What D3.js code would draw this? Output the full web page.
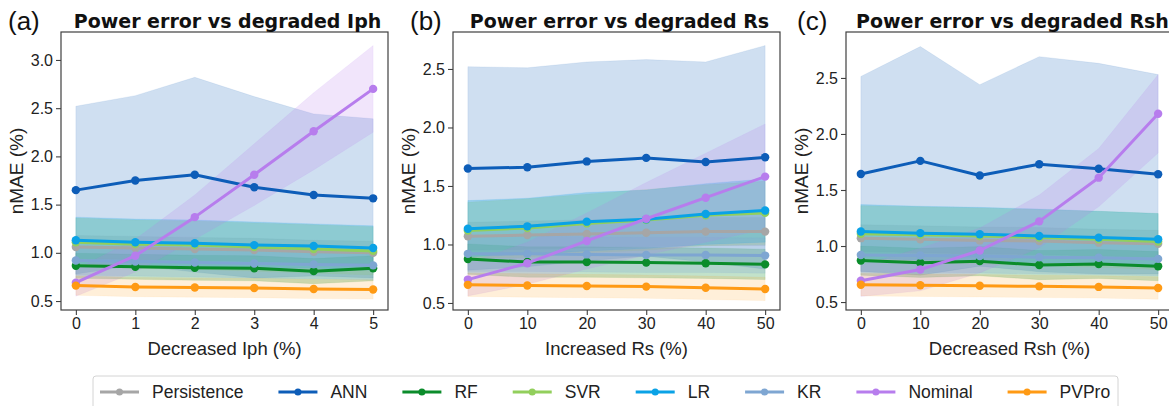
<!DOCTYPE html>
<html>
<head>
<meta charset="utf-8">
<script src="https://cdn.jsdelivr.net/npm/d3@7"></script>
<style>
  body { margin: 0; background: #fff; }
  svg { display: block; font-family: "Liberation Sans", Arial, sans-serif; }
  .title { font-family: "DejaVu Sans", sans-serif; font-weight: bold; }
</style>
</head>
<body>
<svg id="chart" width="1169" height="406"></svg>
<script>
// series (legend order)
const seriesNames = ['Persistence', 'ANN', 'RF', 'SVR', 'LR', 'KR', 'Nominal', 'PVPro'];
const seriesColors = ['#a6a6a6', '#0d5db8', '#0b8c2b', '#92cf5c', '#0aa2e6', '#7ea6d2', '#b77ded', '#ff9a14'];
const bandAlpha = [0.25, 0.2, 0.25, 0.25, 0.28, 0.25, 0.2, 0.16];

// x values
const xIph = [0, 1, 2, 3, 4, 5];
const xRs = [0, 10, 20, 30, 40, 50];
const xRsh = [0, 10, 20, 30, 40, 50];

// (a) degraded Iph : mean nMAE and std per series
const iphMean = [
  [1.06, 1.05, 1.04, 1.03, 1.01, 1.00],
  [1.65, 1.75, 1.81, 1.68, 1.60, 1.565],
  [0.866, 0.855, 0.845, 0.84, 0.81, 0.84],
  [1.11, 1.09, 1.08, 1.06, 1.04, 1.02],
  [1.13, 1.11, 1.10, 1.08, 1.07, 1.05],
  [0.92, 0.91, 0.90, 0.89, 0.88, 0.87],
  [0.69, 0.97, 1.37, 1.81, 2.26, 2.70],
  [0.66, 0.645, 0.64, 0.635, 0.625, 0.62]
];
const iphStd = [
  [0.12, 0.12, 0.12, 0.12, 0.12, 0.12],
  [0.87, 0.88, 1.01, 0.94, 0.84, 0.825],
  [0.13, 0.13, 0.13, 0.13, 0.13, 0.13],
  [0.25, 0.25, 0.25, 0.25, 0.25, 0.25],
  [0.24, 0.24, 0.24, 0.24, 0.23, 0.23],
  [0.15, 0.15, 0.15, 0.15, 0.15, 0.15],
  [0.14, 0.17, 0.23, 0.32, 0.40, 0.45],
  [0.10, 0.10, 0.10, 0.10, 0.10, 0.10]
];

// (b) degraded Rs
const rsMean = [
  [1.07, 1.08, 1.09, 1.10, 1.11, 1.11],
  [1.65, 1.66, 1.71, 1.74, 1.705, 1.745],
  [0.875, 0.85, 0.85, 0.845, 0.84, 0.83],
  [1.12, 1.14, 1.18, 1.21, 1.25, 1.27],
  [1.135, 1.155, 1.195, 1.215, 1.26, 1.29],
  [0.92, 0.92, 0.915, 0.91, 0.91, 0.905],
  [0.70, 0.84, 1.03, 1.22, 1.40, 1.58],
  [0.655, 0.65, 0.645, 0.64, 0.63, 0.62]
];
const rsStd = [
  [0.12, 0.12, 0.12, 0.12, 0.12, 0.12],
  [0.87, 0.85, 0.85, 0.84, 0.855, 0.955],
  [0.13, 0.13, 0.13, 0.13, 0.13, 0.13],
  [0.24, 0.25, 0.25, 0.26, 0.26, 0.27],
  [0.24, 0.24, 0.25, 0.25, 0.26, 0.27],
  [0.15, 0.15, 0.15, 0.15, 0.15, 0.15],
  [0.14, 0.18, 0.24, 0.31, 0.38, 0.45],
  [0.10, 0.10, 0.10, 0.10, 0.10, 0.10]
];

// (c) degraded Rsh
const rshMean = [
  [1.07, 1.06, 1.05, 1.045, 1.03, 1.02],
  [1.643, 1.76, 1.63, 1.73, 1.69, 1.64],
  [0.87, 0.85, 0.865, 0.83, 0.84, 0.82],
  [1.11, 1.10, 1.09, 1.075, 1.06, 1.04],
  [1.13, 1.115, 1.105, 1.09, 1.075, 1.06],
  [0.92, 0.915, 0.91, 0.90, 0.895, 0.885],
  [0.69, 0.79, 0.96, 1.22, 1.61, 2.18],
  [0.655, 0.65, 0.645, 0.64, 0.635, 0.625]
];
const rshStd = [
  [0.12, 0.12, 0.12, 0.12, 0.12, 0.12],
  [0.87, 1.02, 0.81, 0.96, 0.94, 0.89],
  [0.13, 0.13, 0.13, 0.13, 0.13, 0.13],
  [0.25, 0.25, 0.25, 0.25, 0.25, 0.25],
  [0.24, 0.24, 0.24, 0.24, 0.235, 0.23],
  [0.15, 0.15, 0.15, 0.15, 0.15, 0.15],
  [0.14, 0.19, 0.20, 0.235, 0.26, 0.35],
  [0.10, 0.10, 0.10, 0.10, 0.10, 0.10]
];

const yTicksA = [0.5, 1.0, 1.5, 2.0, 2.5, 3.0];
const yTicksBC = [0.5, 1.0, 1.5, 2.0, 2.5];

const panels = [
  { tag: '(a)', tagX: 8, title: 'Power error vs degraded Iph', xlabel: 'Decreased Iph (%)',
    left: 61, x: xIph, xDomain: [-0.25, 5.25], yDomain: [0.407, 3.29], yTicks: yTicksA,
    mean: iphMean, std: iphStd },
  { tag: '(b)', tagX: 410, title: 'Power error vs degraded Rs', xlabel: 'Increased Rs (%)',
    left: 453, x: xRs, xDomain: [-2.5, 52.5], yDomain: [0.44, 2.816], yTicks: yTicksBC,
    mean: rsMean, std: rsStd },
  { tag: '(c)', tagX: 797, title: 'Power error vs degraded Rsh', xlabel: 'Decreased Rsh (%)',
    left: 846, x: xRsh, xDomain: [-2.5, 52.5], yDomain: [0.429, 2.91], yTicks: yTicksBC,
    mean: rshMean, std: rshStd }
];

const svg = d3.select('#chart');
const plotW = 327;
const plotTop = 32;
const plotH = 278;
const axisColor = '#404040';

panels.forEach(p => {
  const x = d3.scaleLinear().domain(p.xDomain).range([0, plotW]);
  const y = d3.scaleLinear().domain(p.yDomain).range([plotH, 0]);
  const g = svg.append('g').attr('transform', `translate(${p.left},${plotTop})`);

  // clip to the frame
  const clipId = 'clip' + p.left;
  g.append('clipPath').attr('id', clipId)
    .append('rect').attr('width', plotW).attr('height', plotH);
  const plot = g.append('g').attr('clip-path', `url(#${clipId})`);

  // bands (mean +/- std)
  seriesNames.forEach((name, i) => {
    const pts = p.x.map((xv, j) => ({ x: xv, m: p.mean[i][j], s: p.std[i][j] }));
    const area = d3.area()
      .x(d => x(d.x))
      .y0(d => y(d.m - d.s))
      .y1(d => y(d.m + d.s));
    plot.append('path')
      .datum(pts)
      .attr('fill', seriesColors[i])
      .attr('fill-opacity', bandAlpha[i])
      .attr('stroke', seriesColors[i])
      .attr('stroke-opacity', bandAlpha[i] * 0.5)
      .attr('stroke-width', 0.8)
      .attr('d', area);
  });

  // lines + markers
  seriesNames.forEach((name, i) => {
    const pts = p.x.map((xv, j) => ({ x: xv, m: p.mean[i][j] }));
    const line = d3.line().x(d => x(d.x)).y(d => y(d.m));
    plot.append('path')
      .datum(pts)
      .attr('fill', 'none')
      .attr('stroke', seriesColors[i])
      .attr('stroke-width', 3)
      .attr('stroke-linejoin', 'round')
      .attr('d', line);
    plot.selectAll(null)
      .data(pts)
      .enter()
      .append('circle')
      .attr('cx', d => x(d.x))
      .attr('cy', d => y(d.m))
      .attr('r', 4.2)
      .attr('fill', seriesColors[i]);
  });

  // frame
  g.append('rect')
    .attr('width', plotW).attr('height', plotH)
    .attr('fill', 'none').attr('stroke', axisColor).attr('stroke-width', 1.2);

  // axes
  const xAxis = g.append('g')
    .attr('transform', `translate(0,${plotH})`)
    .call(d3.axisBottom(x).tickValues(p.x).tickFormat(d3.format('d'))
      .tickSize(5).tickSizeOuter(0).tickPadding(3));
  const yAxis = g.append('g')
    .call(d3.axisLeft(y).tickValues(p.yTicks).tickFormat(d3.format('.1f'))
      .tickSize(5).tickSizeOuter(0).tickPadding(3));
  [xAxis, yAxis].forEach(a => {
    a.select('.domain').remove();
    a.selectAll('line').attr('stroke', axisColor).attr('stroke-width', 1.1);
    a.selectAll('text').attr('fill', '#222').attr('font-size', 16)
      .attr('font-family', '"Liberation Sans", Arial, sans-serif');
  });

  // title, tag, labels
  svg.append('text').attr('class', 'title')
    .attr('x', p.left + plotW / 2 + 3).attr('y', 28)
    .attr('text-anchor', 'middle').attr('font-size', 19).attr('fill', '#111')
    .text(p.title);
  svg.append('text')
    .attr('x', p.tagX).attr('y', 30)
    .attr('font-size', 26).attr('fill', '#111')
    .text(p.tag);
  svg.append('text')
    .attr('x', p.left + plotW / 2).attr('y', 355)
    .attr('text-anchor', 'middle').attr('font-size', 18.5).attr('fill', '#222')
    .text(p.xlabel);
  svg.append('text')
    .attr('transform', `translate(${p.left - 38},${plotTop + plotH / 2}) rotate(-90)`)
    .attr('text-anchor', 'middle').attr('font-size', 19).attr('fill', '#222')
    .text('nMAE (%)');
});

// legend
const legend = svg.append('g');
legend.append('rect')
  .attr('x', 93).attr('y', 376).attr('width', 1025).attr('height', 40)
  .attr('rx', 3).attr('fill', '#fff').attr('stroke', '#d4d4d4').attr('stroke-width', 1);
let lx = 100;
const ly = 392;
seriesNames.forEach((name, i) => {
  const item = legend.append('g');
  item.append('line')
    .attr('x1', lx).attr('x2', lx + 39).attr('y1', ly).attr('y2', ly)
    .attr('stroke', seriesColors[i]).attr('stroke-width', 3);
  item.append('circle')
    .attr('cx', lx + 19.5).attr('cy', ly).attr('r', 3.5).attr('fill', seriesColors[i]);
  const t = item.append('text')
    .attr('x', lx + 52).attr('y', ly).attr('dy', '0.35em')
    .attr('font-size', 17.5).attr('fill', '#222')
    .text(name);
  lx += 52 + t.node().getComputedTextLength() + 35;
});
</script>
</body>
</html>
